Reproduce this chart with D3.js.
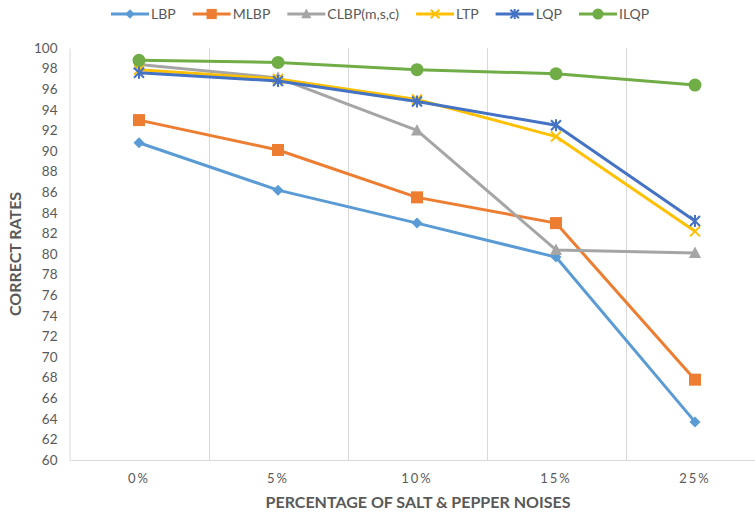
<!DOCTYPE html>
<html>
<head>
<meta charset="utf-8">
<script src="https://cdn.jsdelivr.net/npm/d3@7"></script>
<style>
  body { margin: 0; background: #fff; }
  svg { display: block; font-family: Lato, "Open Sans", sans-serif; }
</style>
</head>
<body>
<svg id="chart" width="755" height="516"></svg>
<script>
const categories = ["0%", "5%", "10%", "15%", "25%"];
const seriesNames = ["LBP", "MLBP", "CLBP(m,s,c)", "LTP", "LQP", "ILQP"];
const LBP   = [90.8, 86.2, 83.0, 79.7, 63.7];
const MLBP  = [93.0, 90.1, 85.5, 83.0, 67.8];
const CLBP  = [98.4, 97.1, 92.0, 80.4, 80.1];
const LTP   = [97.9, 97.0, 95.0, 91.4, 82.2];
const LQP   = [97.6, 96.8, 94.8, 92.5, 83.2];
const ILQP  = [98.8, 98.6, 97.9, 97.5, 96.4];
const yTicks = d3.range(60, 101, 2);
const xTitle = "PERCENTAGE OF SALT & PEPPER NOISES";
const yTitle = "CORRECT RATES";

const seriesValues = [LBP, MLBP, CLBP, LTP, LQP, ILQP];
const colors = ["#5B9BD5", "#ED7D31", "#A5A5A5", "#FFC000", "#4472C4", "#70AD47"];
const markers = ["diamond", "square", "triangle", "x", "asterisk", "circle"];

const svg = d3.select("#chart");
const pLeft = 69.5, pRight = 764.5, pTop = 48, pBottom = 460;

const x = d3.scaleBand().domain(categories).range([pLeft, pRight]).paddingInner(0).paddingOuter(0);
const y = d3.scaleLinear().domain([60, 100]).range([pBottom, pTop]);
const cx = d => x(d) + x.bandwidth() / 2;

// vertical gridlines at band boundaries
const grid = svg.append("g");
categories.slice(1).forEach(c => {
  grid.append("line")
    .attr("x1", Math.round(x(c)) + 0.5).attr("x2", Math.round(x(c)) + 0.5)
    .attr("y1", pTop).attr("y2", pBottom)
    .attr("stroke", "#d9d9d9").attr("stroke-width", 1);
});

// y axis
const yAxis = svg.append("g").attr("transform", `translate(${pLeft},0)`)
  .call(d3.axisLeft(y).tickValues(yTicks).tickSize(0).tickPadding(12));
yAxis.select(".domain").attr("stroke", "#d9d9d9");
yAxis.selectAll("text").attr("fill", "#595959").style("font-size", "13.5px")
  .style("font-family", "Lato, sans-serif");

// x axis
const xAxis = svg.append("g").attr("transform", `translate(0,${pBottom})`)
  .call(d3.axisBottom(x).tickSize(0).tickPadding(14));
xAxis.select(".domain").attr("stroke", "#d9d9d9");
xAxis.selectAll("text").attr("fill", "#595959").style("font-size", "13px")
  .style("letter-spacing", "2px").style("font-family", "Lato, sans-serif");

// axis titles
svg.append("text").attr("x", 418).attr("y", 508)
  .attr("text-anchor", "middle").attr("fill", "#595959")
  .style("font-size", "16px").style("font-weight", "bold")
  .text(xTitle);
svg.append("text").attr("transform", `translate(21,254) rotate(-90)`)
  .attr("text-anchor", "middle").attr("fill", "#595959")
  .style("font-size", "16px").style("font-weight", "bold")
  .text(yTitle);

function drawMarker(g, type, color, px, py, s) {
  s = s || 1;
  if (type === "diamond") {
    g.append("path").attr("d", `M${px},${py-5.5*s}L${px+5.5*s},${py}L${px},${py+5.5*s}L${px-5.5*s},${py}Z`).attr("fill", color);
  } else if (type === "square") {
    g.append("rect").attr("x", px-6*s).attr("y", py-6*s).attr("width", 12*s).attr("height", 12*s).attr("fill", color);
  } else if (type === "triangle") {
    g.append("path").attr("d", `M${px},${py-6.5*s}L${px+6*s},${py+5*s}L${px-6*s},${py+5*s}Z`).attr("fill", color);
  } else if (type === "x") {
    g.append("path").attr("d", `M${px-5*s},${py-5*s}L${px+5*s},${py+5*s}M${px+5*s},${py-5*s}L${px-5*s},${py+5*s}`)
      .attr("stroke", color).attr("stroke-width", 2).attr("fill", "none");
  } else if (type === "asterisk") {
    g.append("path").attr("d", `M${px-5*s},${py-5*s}L${px+5*s},${py+5*s}M${px+5*s},${py-5*s}L${px-5*s},${py+5*s}M${px},${py-6*s}L${px},${py+6*s}`)
      .attr("stroke", color).attr("stroke-width", 2).attr("fill", "none");
  } else if (type === "circle") {
    g.append("circle").attr("cx", px).attr("cy", py).attr("r", 6.5*s).attr("fill", color);
  }
}

const line = d3.line().x((d, i) => cx(categories[i])).y(d => y(d));

seriesValues.forEach((vals, si) => {
  const g = svg.append("g");
  g.append("path").datum(vals).attr("d", line)
    .attr("fill", "none").attr("stroke", colors[si]).attr("stroke-width", 3)
    .attr("stroke-linejoin", "round");
  vals.forEach((v, i) => drawMarker(g, markers[si], colors[si], cx(categories[i]), y(v)));
});

// legend
const legend = svg.append("g");
let lx = 111;
const ly = 14;
seriesNames.forEach((name, si) => {
  const g = legend.append("g");
  g.append("line").attr("x1", lx).attr("x2", lx + 38).attr("y1", ly).attr("y2", ly)
    .attr("stroke", colors[si]).attr("stroke-width", 3);
  drawMarker(g, markers[si], colors[si], lx + 19, ly, 0.85);
  const t = g.append("text").attr("x", lx + 40).attr("y", ly + 5)
    .attr("fill", "#595959").style("font-size", "14px").text(name);
  const w = t.node().getComputedTextLength();
  lx = lx + 40 + w + 17;
});
</script>
</body>
</html>
